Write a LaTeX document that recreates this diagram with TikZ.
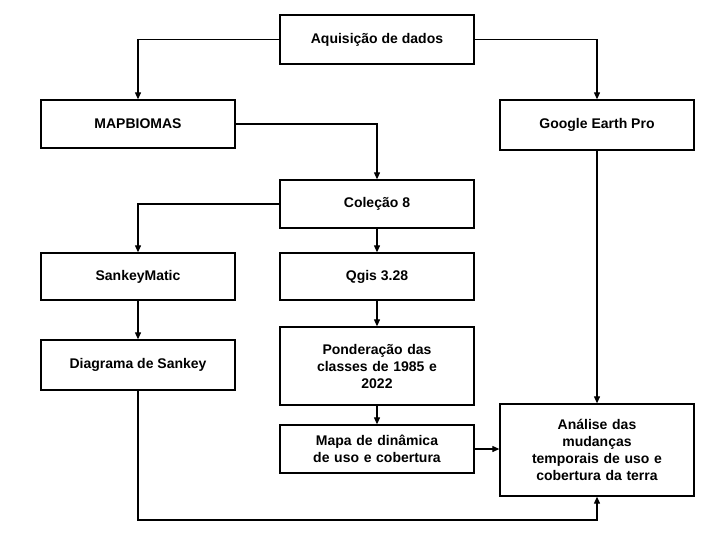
\documentclass[tikz,border=0pt]{standalone}
\usepackage{fontspec}
\setmainfont{Liberation Sans}
\usetikzlibrary{arrows.meta}
\begin{document}
\begin{tikzpicture}[x=1pt,y=-1pt,
  box/.style={draw,line width=1.3pt,minimum width=194pt,align=center,font=\bfseries\fontsize{14}{17}\selectfont,inner sep=2pt},
  arr/.style={draw,line width=1.1pt,-{Triangle[length=7pt,width=6pt]}}]
\useasboundingbox[fill=white] (0,0) rectangle (720,538);
\node[box,minimum height=49pt] (aq) at (377,39.5) {Aquisição de dados};
\node[box,minimum height=48pt] (mb) at (138,124) {MAPBIOMAS};
\node[box,minimum height=50pt] (ge) at (597,125) {Google Earth Pro};
\node[box,minimum height=48pt] (co) at (377,204) {Coleção 8};
\node[box,minimum height=47pt] (sm) at (138,276.5) {SankeyMatic};
\node[box,minimum height=47pt] (qg) at (377,276.5) {Qgis 3.28};
\node[box,minimum height=50pt] (ds) at (138,365) {Diagrama de Sankey};
\node[box,minimum height=78pt,text width=180pt] (po) at (377,366) {Ponderação das\\classes de 1985 e\\2022};
\node[box,minimum height=48pt,text width=180pt] (md) at (377,449) {Mapa de dinâmica\\de uso e cobertura};
\node[box,minimum height=92pt,text width=180pt] (an) at (597,450) {Análise das\\mudanças\\temporais de uso e\\cobertura da terra};
\coordinate (bot) at (138,520);
\draw[arr] (aq.west) -| (mb.north);
\draw[arr] (aq.east) -| (ge.north);
\draw[arr] (mb.east) -| (co.north);
\draw[arr] (co.west) -| (sm.north);
\draw[arr] (co) -- (qg);
\draw[arr] (sm) -- (ds);
\draw[arr] (qg) -- (po);
\draw[arr] (po) -- (md);
\draw[arr] (md.east) -- (an.west|-md.east);
\draw[arr] (ge) -- (an);
\draw[arr] (ds.south) -- (bot) -| (an.south);
\end{tikzpicture}
\end{document}
